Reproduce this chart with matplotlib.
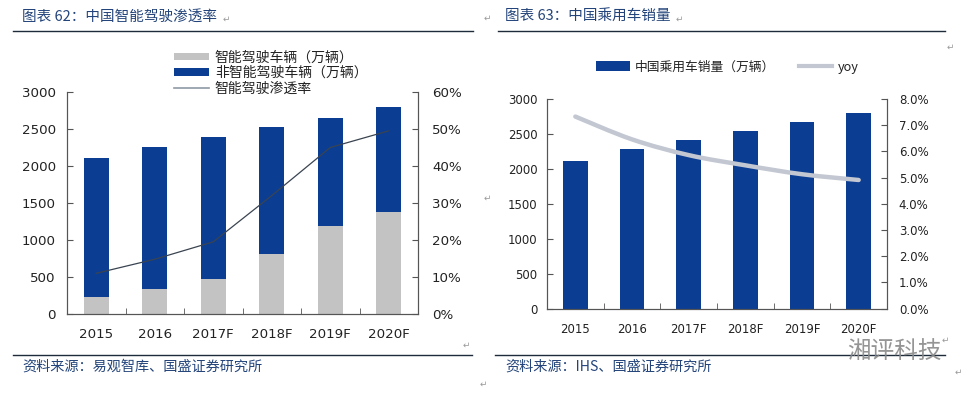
import matplotlib
matplotlib.use("Agg")
import matplotlib.pyplot as plt
from matplotlib.patches import Patch, PathPatch
from matplotlib.lines import Line2D
from matplotlib.path import Path
import numpy as np

plt.rcParams['font.family'] = ['Noto Sans CJK SC', 'DejaVu Sans']

# ---------------- data ----------------
years = ["2015", "2016", "2017F", "2018F", "2019F", "2020F"]
smart_cars = [234, 333, 468, 811, 1189, 1383]          # 智能驾驶车辆（万辆）
non_smart_cars = [1878, 1924, 1928, 1712, 1455, 1410]  # 非智能驾驶车辆（万辆）
penetration = [0.11, 0.148, 0.195, 0.32, 0.45, 0.495]  # 智能驾驶渗透率
left_yticks = [0, 500, 1000, 1500, 2000, 2500, 3000]
left_rticks = [0, 0.1, 0.2, 0.3, 0.4, 0.5, 0.6]

sales = [2114, 2280, 2409, 2542, 2671, 2804]            # 中国乘用车销量（万辆）
yoy = [0.0733, 0.0646, 0.0586, 0.0547, 0.0513, 0.0491]
right_yticks = [0, 500, 1000, 1500, 2000, 2500, 3000]
right_rticks = [0, 0.01, 0.02, 0.03, 0.04, 0.05, 0.06, 0.07, 0.08]

# ---------------- style ----------------
BLUE = "#0b3d93"
GREY = "#c3c3c3"
YOY = "#c2c7d1"
TXT = "#23447a"
SPINE = "#555555"
W, H = 973, 395

fig = plt.figure(figsize=(W / 100, H / 100), dpi=100)
fig.patch.set_facecolor("white")


def px_axes(x0, y_top, x1, y_bot):
    return fig.add_axes([x0 / W, 1 - y_bot / H, (x1 - x0) / W, (y_bot - y_top) / H])


def style_axes(ax, ax2, fs, lpad, rpad, xpad):
    for a in (ax, ax2):
        a.spines['top'].set_visible(False)
        for s in ('left', 'right', 'bottom'):
            a.spines[s].set_color(SPINE)
            a.spines[s].set_linewidth(0.8)
    ax.set_xlim(-0.5, len(years) - 0.5)
    ax.set_xticks(range(len(years)))
    ax.set_xticklabels(years, family='DejaVu Sans', fontsize=fs)
    ax.tick_params(axis='x', which='major', length=0, pad=xpad, colors='#222222')
    ax.set_xticks(np.arange(len(years) + 1) - 0.5, minor=True)
    ax.tick_params(axis='x', which='minor', direction='in', length=4, color=SPINE)
    ax.tick_params(axis='y', direction='in', length=4, pad=lpad, labelsize=fs,
                   colors='#222222', color=SPINE)
    ax2.tick_params(axis='y', direction='in', length=4, pad=rpad, labelsize=fs,
                    colors='#222222', color=SPINE)
    for lab in ax.get_yticklabels() + ax2.get_yticklabels():
        lab.set_family('DejaVu Sans')


# ---------------- left chart ----------------
axL = px_axes(67, 92, 418, 314)
x = np.arange(len(years))
axL.bar(x, smart_cars, width=0.42, color=GREY, zorder=2)
axL.bar(x, non_smart_cars, width=0.42, bottom=smart_cars, color=BLUE, zorder=2)
axL.set_ylim(0, 3000)
axL.set_yticks(left_yticks)
axL.set_yticklabels([str(v) for v in left_yticks])
axL2 = axL.twinx()
axL2.plot(x, penetration, color="#3a4450", lw=0.9, zorder=3)
axL2.set_ylim(0, 0.6)
axL2.set_yticks(left_rticks)
axL2.set_yticklabels([f"{int(round(v * 100))}%" for v in left_rticks])
style_axes(axL, axL2, 9.6, 8, 10, 10)

handlesL = [Patch(facecolor=GREY), Patch(facecolor=BLUE),
            Line2D([0], [0], color="#8c9aa6", lw=1.2)]
labelsL = ["智能驾驶车辆（万辆）", "非智能驾驶车辆（万辆）", "智能驾驶渗透率"]
legL = fig.legend(handlesL, labelsL, loc='center left',
                  bbox_to_anchor=(167 / W, 1 - 73 / H), frameon=False,
                  fontsize=10, handlelength=2.5, handleheight=0.45,
                  handletextpad=0.45, labelspacing=0.1, borderpad=0)
for t in legL.get_texts():
    t.set_color("#222222")

# ---------------- right chart ----------------
axR = px_axes(547, 99, 887, 308.7)
axR.bar(x, sales, width=0.43, color=BLUE, zorder=2)
axR.set_ylim(0, 3000)
axR.set_yticks(right_yticks)
axR.set_yticklabels([str(v) for v in right_yticks])
axR2 = axR.twinx()
axR2.set_ylim(0, 0.08)
axR2.set_yticks(right_rticks)
axR2.set_yticklabels([f"{v * 100:.1f}%" for v in right_rticks])

# smooth yoy line (Catmull-Rom -> cubic Bezier through the data points)
px = np.asarray(x, float)
py = np.asarray(yoy, float)
verts = [(px[0], py[0])]
codes = [Path.MOVETO]
n = len(px)
for i in range(n - 1):
    p0 = (px[max(i - 1, 0)], py[max(i - 1, 0)])
    p1 = (px[i], py[i])
    p2 = (px[i + 1], py[i + 1])
    p3 = (px[min(i + 2, n - 1)], py[min(i + 2, n - 1)])
    c1 = (p1[0] + (p2[0] - p0[0]) / 6, p1[1] + (p2[1] - p0[1]) / 6)
    c2 = (p2[0] - (p3[0] - p1[0]) / 6, p2[1] - (p3[1] - p1[1]) / 6)
    verts += [c1, c2, p2]
    codes += [Path.CURVE4] * 3
axR2.add_patch(PathPatch(Path(verts, codes), facecolor='none', edgecolor=YOY,
                         lw=3.2, capstyle='round', zorder=3))
style_axes(axR, axR2, 8.5, 7, 8.5, 10)

handlesR = [Patch(facecolor=BLUE), Line2D([0], [0], color=YOY, lw=3)]
labelsR = ["中国乘用车销量（万辆）", "yoy"]
legR = fig.legend(handlesR, labelsR, loc='center left',
                  bbox_to_anchor=(590 / W, 1 - 67 / H), frameon=False, ncol=2,
                  fontsize=9.2, handlelength=2.6, handleheight=0.8,
                  handletextpad=0.4, columnspacing=1.9, borderpad=0)
for t in legR.get_texts():
    t.set_color("#222222")

# ---------------- titles, rules, sources ----------------
fig.text(22 / W, 1 - 17 / H, "图表 62：中国智能驾驶渗透率", fontsize=10.5,
         color=TXT, va='center', ha='left', style='italic')
fig.text(505 / W, 1 - 17 / H, "图表 63：中国乘用车销量", fontsize=10.5,
         color=TXT, va='center', ha='left', style='italic')
fig.add_artist(Line2D([13 / W, 473 / W], [1 - 31 / H, 1 - 31 / H], color="#1d2b3a", lw=1.0))
fig.add_artist(Line2D([498 / W, 945 / W], [1 - 31 / H, 1 - 31 / H], color="#1d2b3a", lw=1.0))
fig.add_artist(Line2D([13 / W, 472 / W], [1 - 355 / H, 1 - 355 / H], color="#1d2b3a", lw=1.0))
fig.add_artist(Line2D([495 / W, 945 / W], [1 - 355 / H, 1 - 355 / H], color="#1d2b3a", lw=1.0))
fig.text(22 / W, 1 - 367 / H, "资料来源：易观智库、国盛证券研究所", fontsize=10.2,
         color=TXT, va='center', ha='left', style='italic')
fig.text(505 / W, 1 - 367 / H, "资料来源：IHS、国盛证券研究所", fontsize=10.2,
         color=TXT, va='center', ha='left', style='italic')

# paragraph marks
for (mx, my) in [(226, 19), (487, 18), (679, 19), (950, 47), (487, 198),
                 (466, 345), (945, 340), (483, 384), (958, 372)]:
    fig.text(mx / W, 1 - my / H, "↵", fontsize=6.5, color="#9a9a9a",
             family='DejaVu Sans', va='center', ha='center')

# watermark
fig.text(942 / W, 1 - 351 / H, "湘评科技", fontsize=17, color="#8a8a8a",
         va='center', ha='right', alpha=0.9)

fig.savefig("out.png", dpi=100, facecolor="white")
